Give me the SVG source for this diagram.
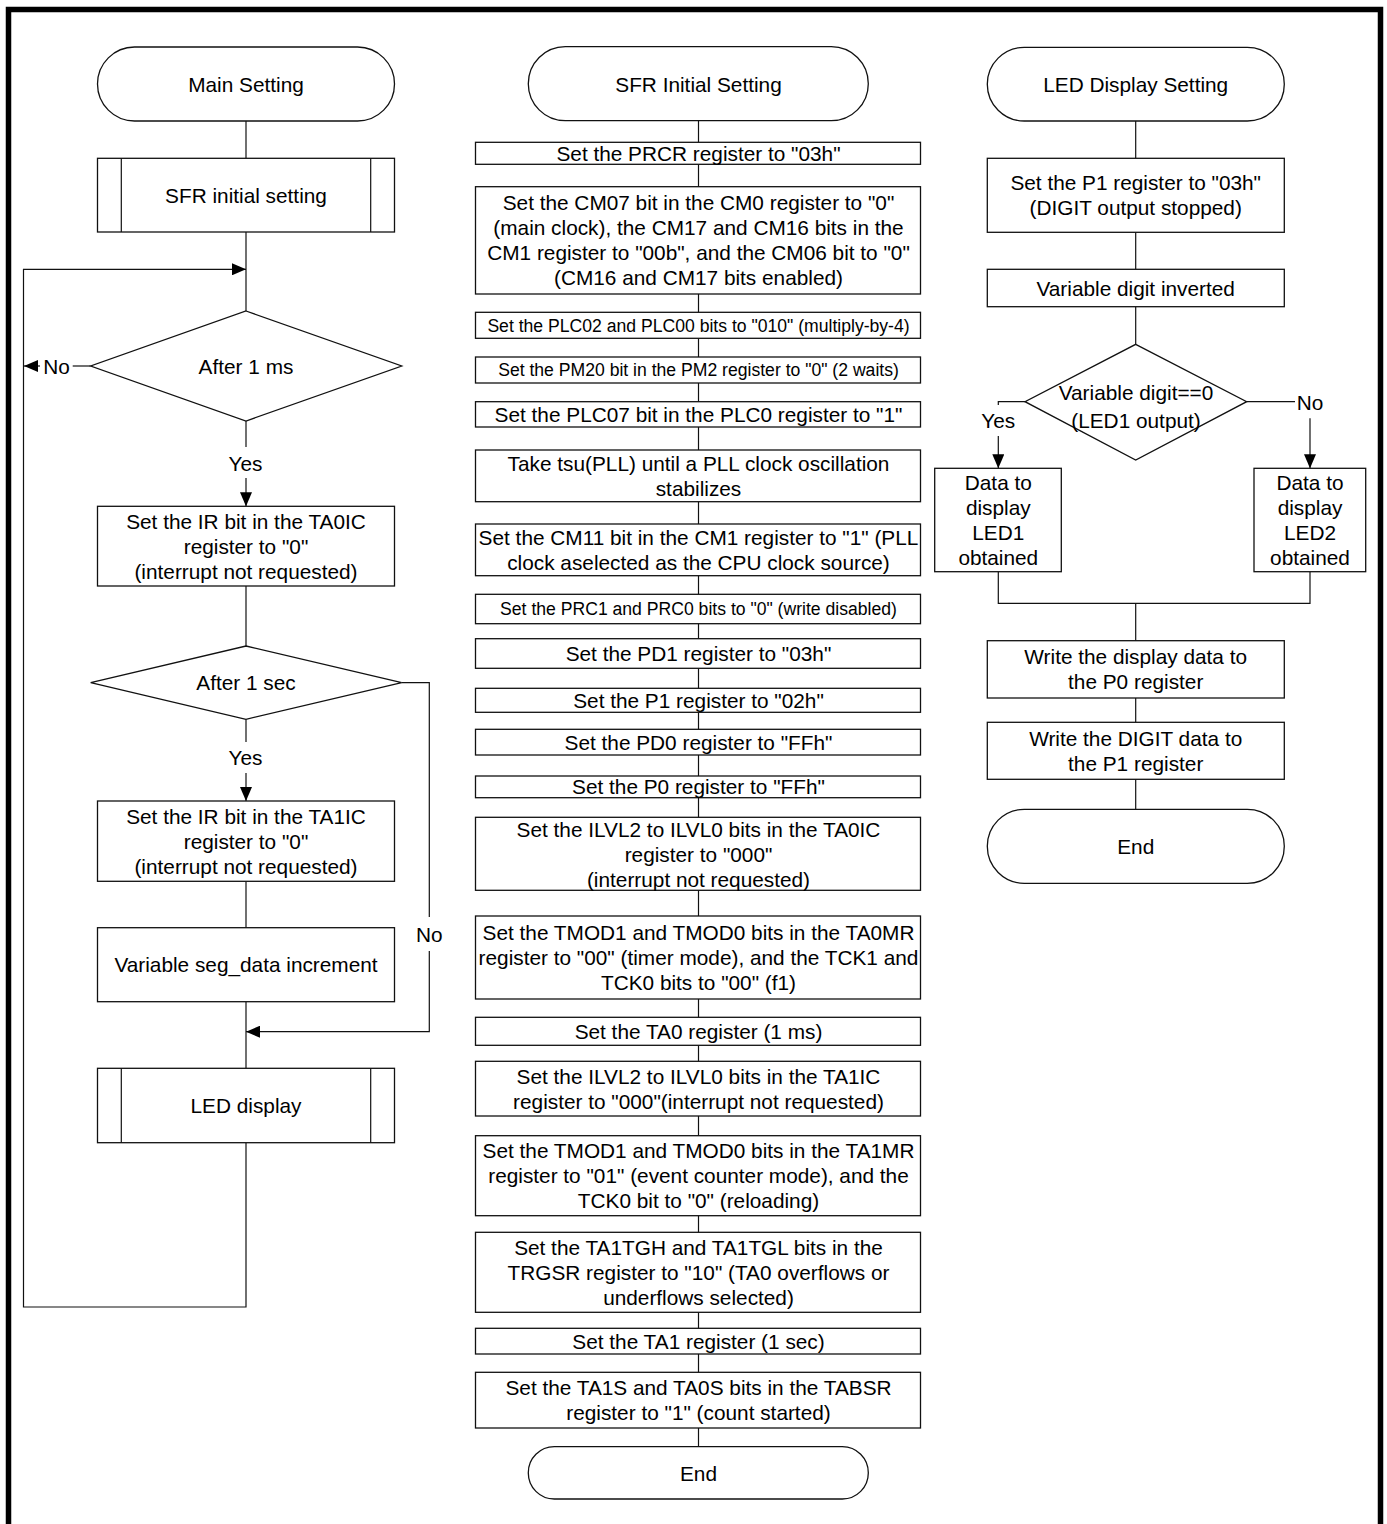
<svg xmlns="http://www.w3.org/2000/svg" width="1387" height="1524" viewBox="0 0 1387 1524">
<style>
.box{fill:#fff;stroke:#111;stroke-width:1.3}
.ln{fill:none;stroke:#111;stroke-width:1.2}
.t{font-family:"Liberation Sans",Arial,sans-serif;font-size:20.8px;text-anchor:middle;fill:#000}
.s{font-size:17.6px}
</style>
<defs>
<marker id="ah" viewBox="0 0 14 12" refX="14" refY="6" markerWidth="14" markerHeight="12" orient="auto" markerUnits="userSpaceOnUse"><path d="M0,0 L14,6 L0,12 z" fill="#000"/></marker>
</defs>
<rect x="0" y="0" width="1387" height="1524" fill="#fff"/>
<rect x="8.5" y="9.5" width="1372" height="1560" fill="none" stroke="#000" stroke-width="5.5"/>

<g id="connectors">
<!-- left column -->
<path class="ln" d="M246,121 V158"/>
<path class="ln" d="M246,232 V311"/>
<path class="ln" d="M246,1143 V1307 H23.5 V269.3 H246" marker-end="url(#ah)"/>
<path class="ln" d="M90.7,366 H72.7"/>
<path class="ln" d="M40,366 H24" marker-end="url(#ah)"/>
<path class="ln" d="M246,421 V447"/>
<path class="ln" d="M246,478 V506.3" marker-end="url(#ah)"/>
<path class="ln" d="M246,586 V646"/>
<path class="ln" d="M246,719.3 V742"/>
<path class="ln" d="M246,773 V801" marker-end="url(#ah)"/>
<path class="ln" d="M401.7,682.7 H429.3 V917"/>
<path class="ln" d="M429.3,951 V1031.7 H246" marker-end="url(#ah)"/>
<path class="ln" d="M246,881.3 V927.7"/>
<path class="ln" d="M246,1001.7 V1068.3"/>
<!-- middle column -->
<path class="ln" d="M698.5,121 V142.3"/>
<path class="ln" d="M698.5,164.3 V186.7"/>
<path class="ln" d="M698.5,294 V312.3"/>
<path class="ln" d="M698.5,338.3 V357"/>
<path class="ln" d="M698.5,383 V401.7"/>
<path class="ln" d="M698.5,427 V450"/>
<path class="ln" d="M698.5,501.7 V524"/>
<path class="ln" d="M698.5,575.7 V594.3"/>
<path class="ln" d="M698.5,623.7 V638.7"/>
<path class="ln" d="M698.5,668.3 V688.3"/>
<path class="ln" d="M698.5,712.3 V729.3"/>
<path class="ln" d="M698.5,755 V776"/>
<path class="ln" d="M698.5,797.7 V817.3"/>
<path class="ln" d="M698.5,890.3 V916"/>
<path class="ln" d="M698.5,999 V1017.3"/>
<path class="ln" d="M698.5,1045.3 V1061.3"/>
<path class="ln" d="M698.5,1116 V1135.7"/>
<path class="ln" d="M698.5,1215.7 V1232.3"/>
<path class="ln" d="M698.5,1312.3 V1328.3"/>
<path class="ln" d="M698.5,1354 V1372.3"/>
<path class="ln" d="M698.5,1428 V1446.7"/>
<!-- right column -->
<path class="ln" d="M1135.7,121 V158.3"/>
<path class="ln" d="M1135.7,232.3 V269.3"/>
<path class="ln" d="M1135.7,306.7 V344.3"/>
<path class="ln" d="M1025,401.7 H998.3 V405"/>
<path class="ln" d="M998.3,436 V468.3" marker-end="url(#ah)"/>
<path class="ln" d="M1246.7,401.7 H1295"/>
<path class="ln" d="M1310,418.3 V468.3" marker-end="url(#ah)"/>
<path class="ln" d="M998.3,571.7 V603.3 H1310 V571.7"/>
<path class="ln" d="M1135.7,603.3 V640.7"/>
<path class="ln" d="M1135.7,698 V722.3"/>
<path class="ln" d="M1135.7,779.3 V809.3"/>
</g>

<g id="labels">
<text class="t" x="56.5" y="373.5">No</text>
<text class="t" x="245.5" y="470.8">Yes</text>
<text class="t" x="245.5" y="765.2">Yes</text>
<text class="t" x="429.3" y="941.5">No</text>
<text class="t" x="998.3" y="428.2">Yes</text>
<text class="t" x="1310" y="410.2">No</text>
</g>

<!-- Left column -->
<g id="main-setting"><rect class="box" x="97.5" y="47" width="297" height="74" rx="37"/><text class="t" x="246" y="91.5">Main Setting</text></g>
<g id="sfr-initial-call"><rect class="box" x="97.5" y="158.3" width="297" height="73.7"/><path class="ln" d="M121.3,158.3 V232 M370.7,158.3 V232"/><text class="t" x="246" y="202.5">SFR initial setting</text></g>
<g id="after-1ms"><path class="box" d="M246,311 L401.7,366 L246,421 L90.7,366 z"/><text class="t" x="246" y="373.5">After 1 ms</text></g>
<g id="ta0ic-ir"><rect class="box" x="97.5" y="506.3" width="297" height="79.7"/><text class="t"><tspan x="246" y="529">Set the IR bit in the TA0IC</tspan><tspan x="246" y="554">register to "0"</tspan><tspan x="246" y="579">(interrupt not requested)</tspan></text></g>
<g id="after-1sec"><path class="box" d="M246,646 L401.7,682.7 L246,719.3 L90.7,682.7 z"/><text class="t" x="246" y="690.2">After 1 sec</text></g>
<g id="ta1ic-ir"><rect class="box" x="97.5" y="801" width="297" height="80.3"/><text class="t"><tspan x="246" y="823.5">Set the IR bit in the TA1IC</tspan><tspan x="246" y="848.5">register to "0"</tspan><tspan x="246" y="873.5">(interrupt not requested)</tspan></text></g>
<g id="seg-data-inc"><rect class="box" x="97.5" y="927.7" width="297" height="74"/><text class="t" x="246" y="972.2">Variable seg_data increment</text></g>
<g id="led-display-call"><rect class="box" x="97.5" y="1068.3" width="297" height="74.4"/><path class="ln" d="M121.3,1068.3 V1142.7 M370.7,1068.3 V1142.7"/><text class="t" x="246" y="1113">LED display</text></g>

<!-- Middle column -->
<g id="sfr-initial-setting"><rect class="box" x="528.3" y="46.7" width="340" height="74" rx="37"/><text class="t" x="698.5" y="91.5">SFR Initial Setting</text></g>
<g id="m1"><rect class="box" x="475.5" y="142.3" width="445" height="22"/><text class="t" x="698.5" y="160.8">Set the PRCR register to "03h"</text></g>
<g id="m2"><rect class="box" x="475.5" y="186.7" width="445" height="107.3"/><text class="t"><tspan x="698.5" y="210.3">Set the CM07 bit in the CM0 register to "0"</tspan><tspan x="698.5" y="235.3">(main clock), the CM17 and CM16 bits in the</tspan><tspan x="698.5" y="260.3">CM1 register to "00b", and the CM06 bit to "0"</tspan><tspan x="698.5" y="285.3">(CM16 and CM17 bits enabled)</tspan></text></g>
<g id="m3"><rect class="box" x="475.5" y="312.3" width="445" height="26"/><text class="t s" x="698.5" y="331.6">Set the PLC02 and PLC00 bits to "010" (multiply-by-4)</text></g>
<g id="m4"><rect class="box" x="475.5" y="357" width="445" height="26"/><text class="t s" x="698.5" y="376.3">Set the PM20 bit in the PM2 register to "0" (2 waits)</text></g>
<g id="m5"><rect class="box" x="475.5" y="401.7" width="445" height="25.3"/><text class="t" x="698.5" y="421.8">Set the PLC07 bit in the PLC0 register to "1"</text></g>
<g id="m6"><rect class="box" x="475.5" y="450" width="445" height="51.7"/><text class="t"><tspan x="698.5" y="470.8">Take tsu(PLL) until a PLL clock oscillation</tspan><tspan x="698.5" y="495.8">stabilizes</tspan></text></g>
<g id="m7"><rect class="box" x="475.5" y="524" width="445" height="51.7"/><text class="t"><tspan x="698.5" y="544.8">Set the CM11 bit in the CM1 register to "1" (PLL</tspan><tspan x="698.5" y="569.8">clock aselected as the CPU clock source)</tspan></text></g>
<g id="m8"><rect class="box" x="475.5" y="594.3" width="445" height="29.4"/><text class="t s" x="698.5" y="615.3">Set the PRC1 and PRC0 bits to "0" (write disabled)</text></g>
<g id="m9"><rect class="box" x="475.5" y="638.7" width="445" height="29.6"/><text class="t" x="698.5" y="661">Set the PD1 register to "03h"</text></g>
<g id="m10"><rect class="box" x="475.5" y="688.3" width="445" height="24"/><text class="t" x="698.5" y="707.8">Set the P1 register to "02h"</text></g>
<g id="m11"><rect class="box" x="475.5" y="729.3" width="445" height="25.7"/><text class="t" x="698.5" y="749.5">Set the PD0 register to "FFh"</text></g>
<g id="m12"><rect class="box" x="475.5" y="776" width="445" height="21.7"/><text class="t" x="698.5" y="794.3">Set the P0 register to "FFh"</text></g>
<g id="m13"><rect class="box" x="475.5" y="817.3" width="445" height="73"/><text class="t"><tspan x="698.5" y="836.5">Set the ILVL2 to ILVL0 bits in the TA0IC</tspan><tspan x="698.5" y="861.5">register to "000"</tspan><tspan x="698.5" y="886.5">(interrupt not requested)</tspan></text></g>
<g id="m14"><rect class="box" x="475.5" y="916" width="445" height="83"/><text class="t"><tspan x="698.5" y="940">Set the TMOD1 and TMOD0 bits in the TA0MR</tspan><tspan x="698.5" y="965">register to "00" (timer mode), and the TCK1 and</tspan><tspan x="698.5" y="990">TCK0 bits to "00" (f1)</tspan></text></g>
<g id="m15"><rect class="box" x="475.5" y="1017.3" width="445" height="28"/><text class="t" x="698.5" y="1038.8">Set the TA0 register (1 ms)</text></g>
<g id="m16"><rect class="box" x="475.5" y="1061.3" width="445" height="54.7"/><text class="t"><tspan x="698.5" y="1083.7">Set the ILVL2 to ILVL0 bits in the TA1IC</tspan><tspan x="698.5" y="1108.7">register to "000"(interrupt not requested)</tspan></text></g>
<g id="m17"><rect class="box" x="475.5" y="1135.7" width="445" height="80"/><text class="t"><tspan x="698.5" y="1158.2">Set the TMOD1 and TMOD0 bits in the TA1MR</tspan><tspan x="698.5" y="1183.2">register to "01" (event counter mode), and the</tspan><tspan x="698.5" y="1208.2">TCK0 bit to "0" (reloading)</tspan></text></g>
<g id="m18"><rect class="box" x="475.5" y="1232.3" width="445" height="80"/><text class="t"><tspan x="698.5" y="1254.8">Set the TA1TGH and TA1TGL bits in the</tspan><tspan x="698.5" y="1279.8">TRGSR register to "10" (TA0 overflows or</tspan><tspan x="698.5" y="1304.8">underflows selected)</tspan></text></g>
<g id="m19"><rect class="box" x="475.5" y="1328.3" width="445" height="25.7"/><text class="t" x="698.5" y="1348.5">Set the TA1 register (1 sec)</text></g>
<g id="m20"><rect class="box" x="475.5" y="1372.3" width="445" height="55.7"/><text class="t"><tspan x="698.5" y="1395">Set the TA1S and TA0S bits in the TABSR</tspan><tspan x="698.5" y="1420">register to "1" (count started)</tspan></text></g>
<g id="sfr-end"><rect class="box" x="528.3" y="1446.7" width="340" height="52.3" rx="26"/><text class="t" x="698.5" y="1480.5">End</text></g>

<!-- Right column -->
<g id="led-display-setting"><rect class="box" x="987.3" y="47.3" width="297" height="73.7" rx="37"/><text class="t" x="1135.7" y="91.7">LED Display Setting</text></g>
<g id="r1"><rect class="box" x="987.3" y="158.3" width="297" height="74"/><text class="t"><tspan x="1135.7" y="190.3">Set the P1 register to "03h"</tspan><tspan x="1135.7" y="215.3">(DIGIT output stopped)</tspan></text></g>
<g id="r2"><rect class="box" x="987.3" y="269.3" width="297" height="37.4"/><text class="t" x="1135.7" y="295.5">Variable digit inverted</text></g>
<g id="r3"><path class="box" d="M1135.7,344.3 L1246.7,401.7 L1135.7,460 L1025,401.7 z"/><text class="t"><tspan x="1136" y="399.8">Variable digit==0</tspan><tspan x="1136" y="427.5">(LED1 output)</tspan></text></g>
<g id="r4"><rect class="box" x="934.7" y="468.3" width="126.6" height="103.4"/><text class="t"><tspan x="998.3" y="490">Data to</tspan><tspan x="998.3" y="515">display</tspan><tspan x="998.3" y="540">LED1</tspan><tspan x="998.3" y="565">obtained</tspan></text></g>
<g id="r5"><rect class="box" x="1254" y="468.3" width="111.7" height="103.4"/><text class="t"><tspan x="1310" y="490">Data to</tspan><tspan x="1310" y="515">display</tspan><tspan x="1310" y="540">LED2</tspan><tspan x="1310" y="565">obtained</tspan></text></g>
<g id="r6"><rect class="box" x="987.3" y="640.7" width="297" height="57.3"/><text class="t"><tspan x="1135.7" y="664">Write the display data to</tspan><tspan x="1135.7" y="689">the P0 register</tspan></text></g>
<g id="r7"><rect class="box" x="987.3" y="722.3" width="297" height="57"/><text class="t"><tspan x="1135.7" y="745.8">Write the DIGIT data to</tspan><tspan x="1135.7" y="770.8">the P1 register</tspan></text></g>
<g id="led-end"><rect class="box" x="987.3" y="809.3" width="297" height="74" rx="37"/><text class="t" x="1135.7" y="853.5">End</text></g>
</svg>
